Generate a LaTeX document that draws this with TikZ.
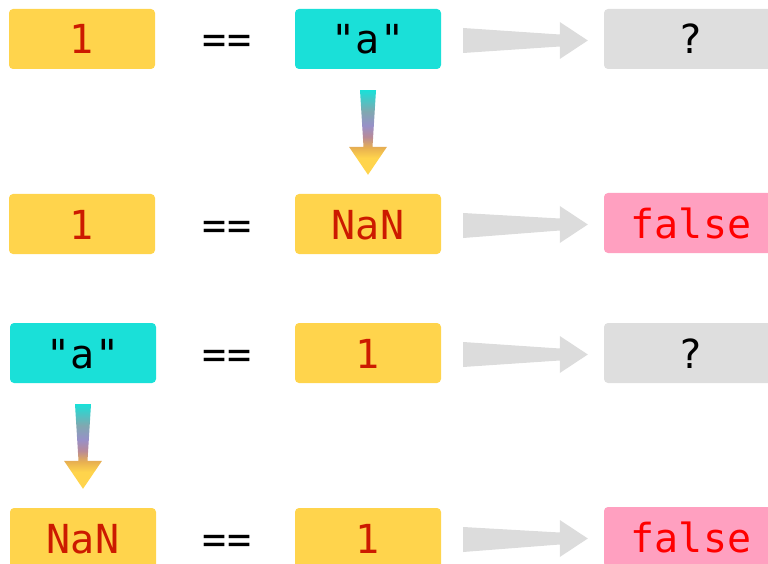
\documentclass[tikz,border=0pt]{standalone}
\usepackage{fontspec}
\setmonofont{DejaVu Sans Mono}
\usetikzlibrary{calc}
\definecolor{boxyellow}{HTML}{FFD44C}
\definecolor{boxcyan}{HTML}{1AE0D8}
\definecolor{boxgray}{HTML}{DEDEDE}
\definecolor{boxpink}{HTML}{FFA0C0}
\definecolor{numred}{HTML}{CC1A00}
\definecolor{falsered}{HTML}{FF0000}
\definecolor{arrowgray}{HTML}{DCDCDC}
\definecolor{convorange}{HTML}{E8B050}
\definecolor{convmauve}{HTML}{B88A98}
\definecolor{convpurple}{HTML}{9890C8}
\definecolor{convteal}{HTML}{80A8B0}
\pgfdeclareverticalshading{convshade}{100bp}{color(0bp)=(boxyellow); color(35bp)=(boxyellow); color(41bp)=(convorange); color(47.5bp)=(convmauve); color(54bp)=(convpurple); color(62.5bp)=(convteal); color(75bp)=(boxcyan); color(100bp)=(boxcyan)}
\newcommand{\cmparrow}[2]{%
  \fill[arrowgray] ($(#1.east)+(22,-11)$) -- ($(#2.west)+(-44,-4.5)$) -- ($(#2.west)+(-44,-17)$) -- ($(#2.west)+(-16,1.5)$) -- ($(#2.west)+(-44,20)$) -- ($(#2.west)+(-44,7.5)$) -- ($(#1.east)+(22,14)$) -- cycle;}
\newcommand{\convarrow}[2]{%
  \shade[shading=convshade] ($(#1.south)+(-8,21)$) -- ($(#1.south)+(8,21)$) -- ($(#2.north)+(4.5,-47)$) -- ($(#2.north)+(19,-47)$) -- ($(#2.north)+(0,-19)$) -- ($(#2.north)+(-19,-47)$) -- ($(#2.north)+(-4.5,-47)$) -- cycle;}
\begin{document}
\begin{tikzpicture}[x=1pt,y=-1pt,
  valbox/.style={rectangle, rounded corners=4pt, minimum width=146pt, minimum height=60pt, inner sep=0pt,
    font=\ttfamily\fontsize{40}{40}\selectfont, text height=30pt, text depth=0pt},
  resbox/.style={valbox, minimum width=174pt},
  numval/.style={valbox, fill=boxyellow, text=numred},
  strval/.style={valbox, fill=boxcyan, text=black},
  unknown/.style={resbox, fill=boxgray, text=black},
  falseval/.style={resbox, fill=boxpink, text=falsered},
  eqsign/.style={inner sep=0pt, font=\ttfamily\fontsize{40}{40}\selectfont, text height=30pt, text depth=0pt}]
\useasboundingbox (0,0) rectangle (768,564);
\clip (0,0) rectangle (768,564);
% row 1
\node[numval] (l1) at (82,39) {1};
\node[eqsign] (e1) at (227,39) {==};
\node[strval] (m1) at (368,39) {"a"};
\node[unknown] (r1) at (691,39) {?};
% row 2
\node[numval] (l2) at (82,224) {1};
\node[eqsign] (e2) at (227,224) {==};
\node[numval] (m2) at (368,224) {NaN};
\node[falseval] (r2) at (691,223) {false};
% row 3
\node[strval] (l3) at (83,353) {"a"};
\node[eqsign] (e3) at (227,353) {==};
\node[numval] (m3) at (368,353) {1};
\node[unknown] (r3) at (691,353) {?};
% row 4
\node[numval] (l4) at (83,538) {NaN};
\node[eqsign] (e4) at (227,538) {==};
\node[numval] (m4) at (368,538) {1};
\node[falseval] (r4) at (691,537) {false};
% arrows
\cmparrow{m1}{r1}
\cmparrow{m2}{r2}
\cmparrow{m3}{r3}
\cmparrow{m4}{r4}
\convarrow{m1}{m2}
\convarrow{l3}{l4}
\end{tikzpicture}
\end{document}
